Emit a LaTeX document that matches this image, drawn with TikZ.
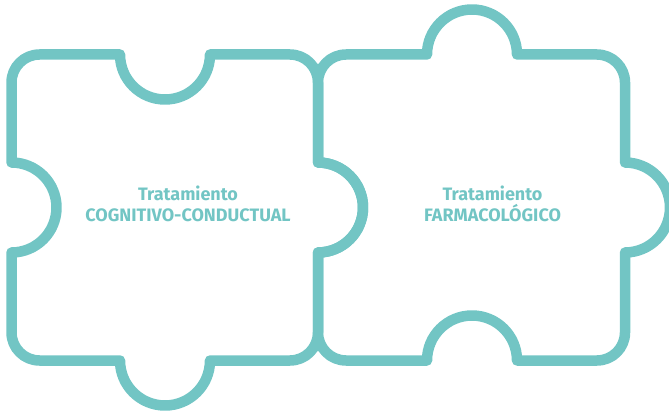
\documentclass[tikz,border=0pt]{standalone}
\usepackage{fontspec}
\setmainfont{Fira Sans}
\definecolor{teal}{RGB}{114,197,196}
\begin{document}
\begin{tikzpicture}[x=1pt,y=-1pt,
  piece/.style={draw=teal,line width=10.5pt,line join=round},
  label/.style={text=teal,font=\bfseries\fontsize{18}{20.5}\selectfont,align=center,inner sep=0pt}]
\useasboundingbox (0,0) rectangle (669,414);
\clip (0,0) rectangle (669,414);
% left piece
\draw[piece] (11.5,82.5) arc[start angle=180,end angle=270,radius=28] -- (120,54.5)
  arc[start angle=180,end angle=0,radius=45] -- (290,54.5)
  arc[start angle=-90,end angle=0,radius=28] -- (318,162.5)
  arc[start angle=-90,end angle=90,radius=45] -- (318,332.5)
  arc[start angle=0,end angle=90,radius=28] -- (210,360.5)
  arc[start angle=0,end angle=180,radius=45] -- (39.5,360.5)
  arc[start angle=90,end angle=180,radius=28] -- (11.5,252.5)
  arc[start angle=90,end angle=-90,radius=45] -- cycle;
% right piece
\draw[piece] (318,82.5) arc[start angle=180,end angle=270,radius=28] -- (427,54.5)
  arc[start angle=180,end angle=360,radius=45] -- (597,54.5)
  arc[start angle=-90,end angle=0,radius=28] -- (625,162.5)
  arc[start angle=-90,end angle=90,radius=45] -- (625,332.5)
  arc[start angle=0,end angle=90,radius=28] -- (517,360.5)
  arc[start angle=0,end angle=-180,radius=45] -- (346,360.5)
  arc[start angle=90,end angle=180,radius=28] -- (318,252.5)
  arc[start angle=90,end angle=-90,radius=45] -- cycle;
\node[label] (tcc) at (188,204) {Tratamiento\\COGNITIVO-CONDUCTUAL};
\node[label] (tf) at (492.5,204) {Tratamiento\\FARMACOLÓGICO};
\end{tikzpicture}
\end{document}
